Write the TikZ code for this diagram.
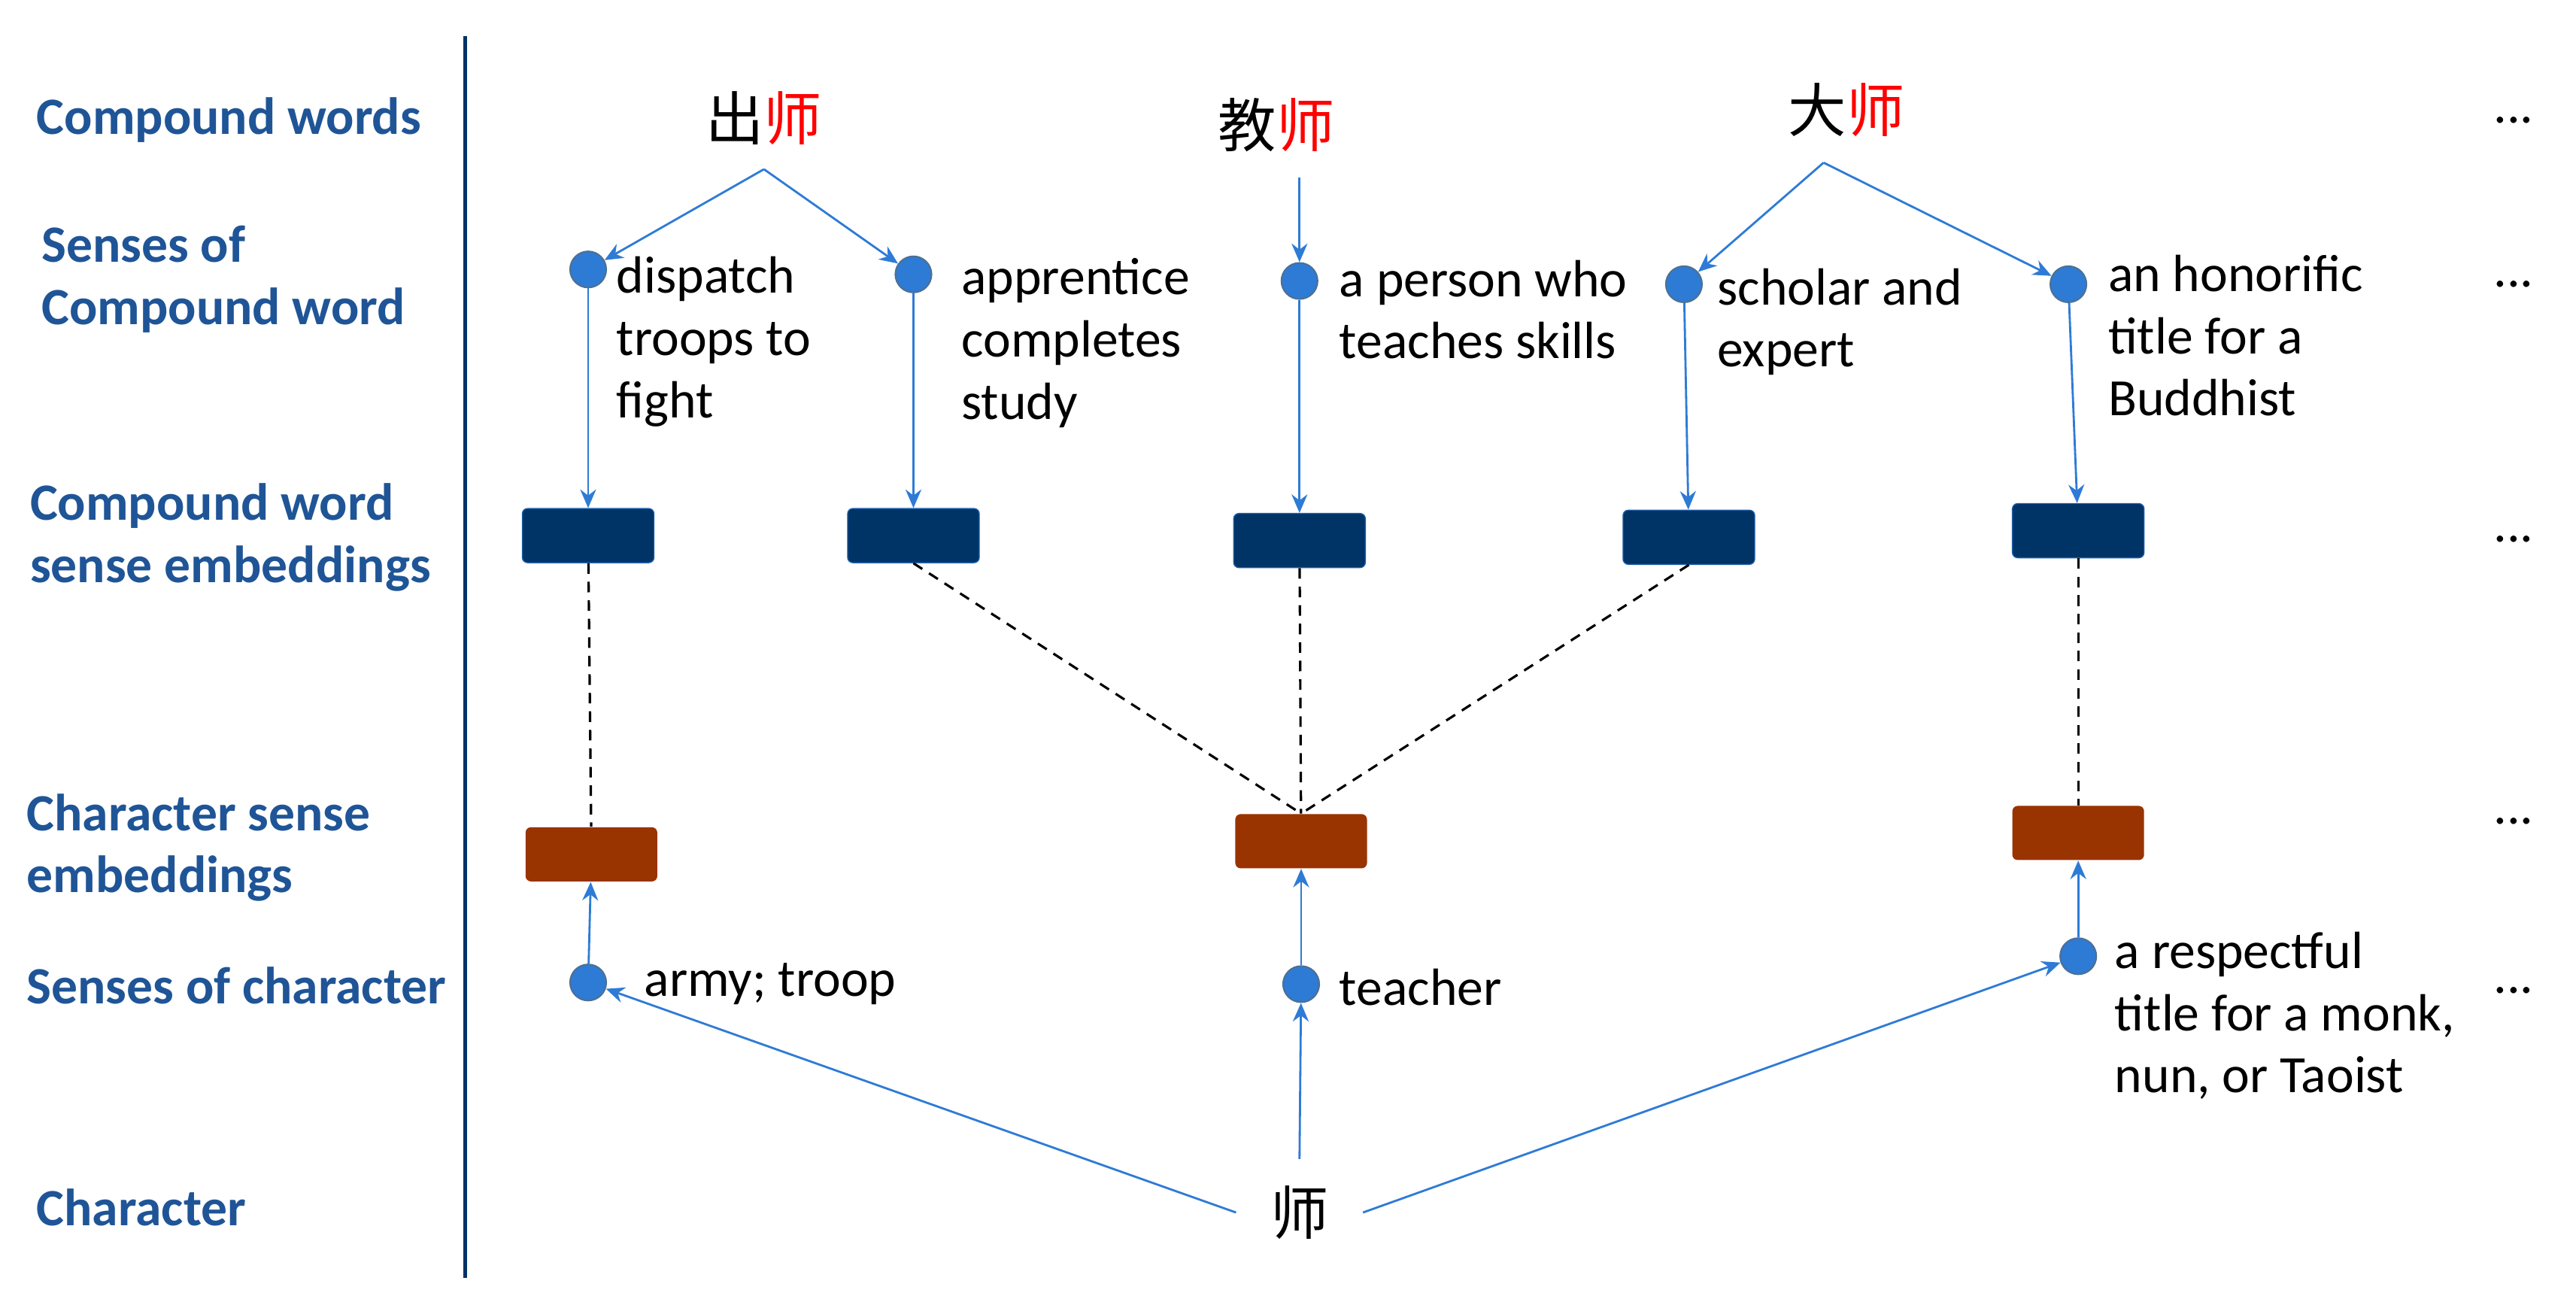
\documentclass[tikz,border=0pt]{standalone}
\usepackage{fontspec}
\setmainfont{Carlito}
\newfontfamily\cjk{Noto Sans CJK SC}
\usetikzlibrary{arrows.meta}
\definecolor{lblue}{HTML}{1F5597}
\definecolor{ablue}{HTML}{2E7BD6}
\definecolor{dblue}{HTML}{003366}
\definecolor{brown}{HTML}{993300}
\begin{document}
\begin{tikzpicture}[x=0.02184cm,y=-0.02184cm,
 lab/.style={font=\fontsize{19.8}{23.5}\selectfont\bfseries,text=lblue,align=left,anchor=west,inner sep=0},
 txt/.style={font=\fontsize{19.8}{23.5}\selectfont,align=left,anchor=north west,inner sep=0},
 cw/.style={font=\cjk\fontsize{22}{26}\selectfont,inner sep=0},
 dot/.style={circle,fill=ablue,draw=dblue!70,line width=0.6pt,minimum size=0.48cm,inner sep=0},
 eb/.style={rectangle,rounded corners=2pt,fill=dblue,draw=ablue!60!dblue,minimum width=1.75cm,minimum height=0.72cm,inner sep=0},
 cb/.style={rectangle,rounded corners=2pt,fill=brown,minimum width=1.75cm,minimum height=0.72cm,inner sep=0},
 ar/.style={draw=ablue,line width=0.8pt,-{Stealth[length=7pt,width=6pt]}},
 da/.style={draw=black,line width=0.9pt,dash pattern=on 4pt off 3pt},
 dd/.style={font=\fontsize{20}{22}\selectfont,inner sep=0}]
\useasboundingbox (0,0) rectangle (1568,796);
\draw[dblue,line width=1.5pt] (283,22) -- (283,778);
\node[lab] (l1) at (22,73) {Compound words};
\node[lab] (l2) at (25,170) {Senses of\\Compound word};
\node[lab] (l3) at (18,327) {Compound word\\sense embeddings};
\node[lab] (l4) at (16,516) {Character sense\\embeddings};
\node[lab] (l5) at (16,600) {Senses of character};
\node[lab] (l6) at (22,735) {Character};
\node[cw] (w1) at (465,72) {出\textcolor{red}{师}};
\node[cw] (w2) at (777,76) {教\textcolor{red}{师}};
\node[cw] (w3) at (1124,67) {大\textcolor{red}{师}};
\coordinate (w1b) at (465,103);
\coordinate (w3b) at (1110,99);
\node[dot] (s1) at (358,164) {};
\node[dot] (s2) at (556,167) {};
\node[dot] (s3) at (791,171) {};
\node[dot] (s4) at (1025,173) {};
\node[dot] (s5) at (1259,173) {};
\node[txt] (t1) at (375,156) {dispatch\\troops to\\fight};
\node[txt] (t2) at (585,157) {apprentice\\completes\\study};
\node[txt] (t3) at (815,158) {a person who\\teaches skills};
\node[txt] (t4) at (1045,163) {scholar and\\expert};
\node[txt] (t5) at (1283,155) {an honorific\\title for a\\Buddhist};
\draw[ar] (w1b) -- (s1);
\draw[ar] (w1b) -- (s2);
\draw[ar] (791,108) -- (s3);
\draw[ar] (w3b) -- (s4);
\draw[ar] (w3b) -- (s5);
\node[eb] (e1) at (358,326) {};
\node[eb] (e2) at (556,326) {};
\node[eb] (e3) at (791,329) {};
\node[eb] (e4) at (1028,327) {};
\node[eb] (e5) at (1265,323) {};
\draw[ar] (s1) -- (e1);
\draw[ar] (s2) -- (e2);
\draw[ar] (s3) -- (e3);
\draw[ar] (s4) -- (e4);
\draw[ar] (s5) -- (e5);
\node[cb] (c1) at (360,520) {};
\node[cb] (c2) at (792,512) {};
\node[cb] (c3) at (1265,507) {};
\draw[da] (e1) -- (c1);
\draw[da] (e2.south) -- (c2.north);
\draw[da] (e3) -- (c2);
\draw[da] (e4.south) -- (c2.north);
\draw[da] (e5) -- (c3);
\node[dot] (k1) at (358,598) {};
\node[dot] (k2) at (792,599) {};
\node[dot] (k3) at (1265,582) {};
\draw[ar] (k1) -- (c1);
\draw[ar] (k2) -- (c2);
\draw[ar] (k3) -- (c3);
\node[txt,anchor=west] (u1) at (392,599) {army; troop};
\node[txt,anchor=west] (u2) at (815,601) {teacher};
\node[txt,anchor=north west] (u3) at (1287,567) {a respectful\\title for a monk,\\nun, or Taoist};
\node[cw,inner xsep=0.45cm,inner ysep=0.35cm] (ch) at (791,738) {师};
\draw[ar] (ch.west) -- (k1);
\draw[ar] (ch.north) -- (k2);
\draw[ar] (ch.east) -- (k3);
\foreach \y [count=\i] in {73,173,328,500,603} \node[dd] (dd\i) at (1530,\y) {...};
\end{tikzpicture}
\end{document}
